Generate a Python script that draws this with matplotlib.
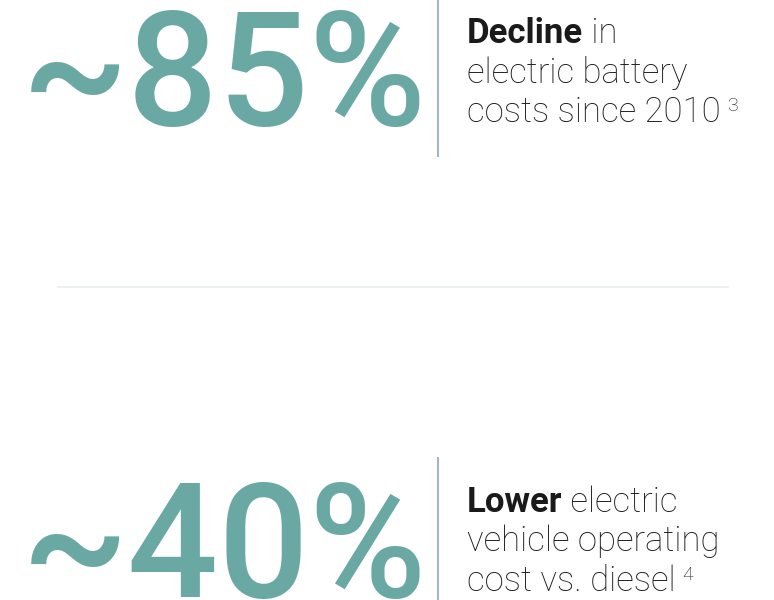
import matplotlib
matplotlib.use("Agg")
import matplotlib.pyplot as plt

# stat blocks
stats = ["~85%", "~40%"]
bold_words = ["Decline", "Lower"]
first_rest = [" in", " electric"]
more_lines = [["electric battery", "costs since 2010"],
              ["vehicle operating", "cost vs. diesel"]]
notes = ["3", "4"]

teal = "#6aa9a3"
rule = "#a9b6bf"
ink = "#1a1a1a"

fig = plt.figure(figsize=(7.74, 6.0), dpi=100)
ax = fig.add_axes([0, 0, 1, 1])
ax.set_xlim(0, 774)
ax.set_ylim(600, 0)
ax.axis("off")

tops = [0, 457]
bots = [157, 600]
base_big = [125, 597]
base_txt = [43, 512]
fs = 25

for i in range(2):
    ax.text(22, base_big[i], stats[i], fontsize=115, family="Roboto",
            weight="medium", color=teal, va="baseline", ha="left")
    ax.plot([438, 438], [tops[i], bots[i]], color=rule, lw=1.5,
            solid_capstyle="butt")

    b = ax.text(467, base_txt[i], bold_words[i], fontsize=fs, family="Roboto",
                weight="bold", color=ink, va="baseline")
    ax.annotate(first_rest[i], xy=(1, 0), xycoords=b, va="bottom", ha="left",
                fontsize=fs, family="Roboto", weight="light", color=ink)
    last = None
    for j, line in enumerate(more_lines[i]):
        last = ax.text(467, base_txt[i] + 39.5 * (j + 1), line, fontsize=fs,
                       family="Roboto", weight="light", color=ink, va="baseline")
    ax.annotate(notes[i], xy=(1, 0), xycoords=last, xytext=(5, 10),
                textcoords="offset points", va="bottom", ha="left",
                fontsize=14, family="Roboto", weight="light", color=ink)

ax.plot([58, 728], [287, 287], color="#e8f0ef", lw=1.2)

fig.savefig("out.png", dpi=100)
